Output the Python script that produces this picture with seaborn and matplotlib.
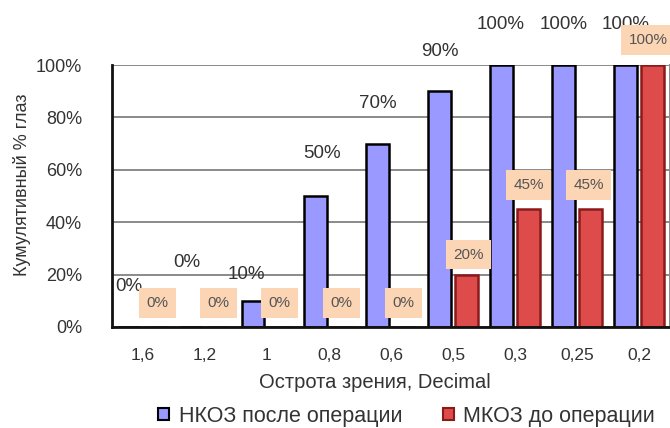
import matplotlib
matplotlib.use("Agg")
import matplotlib.pyplot as plt
import seaborn as sns
import pandas as pd

# Visual acuity categories (Decimal)
acuity = ["1,6", "1,2", "1", "0,8", "0,6", "0,5", "0,3", "0,25", "0,2"]
series_names = ["НКОЗ после операции", "МКОЗ до операции"]
ucva_after = [0, 0, 10, 50, 70, 90, 100, 100, 100]
bcva_before = [0, 0, 0, 0, 0, 20, 45, 45, 100]

# Label nudges (pixels: right, up) relative to the top centre of each bar
after_offsets = [(-1, 40), (-5, 64), (-7, 26), (7, 43), (0, 40), (0, 40), (-1, 41), (0, 41), (0, 41)]
before_offsets = [(1, 24), (0, 24), (-1, 24), (-1, 24), (-1, 24), (2, 20), (0, 24), (-2, 24), (-4, 25)]

df = pd.DataFrame({
    "acuity": acuity * 2,
    "value": ucva_after + bcva_before,
    "group": [series_names[0]] * len(acuity) + [series_names[1]] * len(acuity),
})

sns.set_theme(style="white")
plt.rcParams["font.family"] = ["Liberation Sans", "DejaVu Sans"]

BLUE = "#9999FF"
RED = "#DE4B4B"
TEXT = "#333333"

fig = plt.figure(figsize=(6.7, 4.28), dpi=100)
ax = fig.add_axes([0.167, 0.236, 0.833, 0.612])

sns.barplot(data=df, x="acuity", y="value", hue="group", order=acuity,
            hue_order=series_names, palette=[BLUE, RED], width=0.87, gap=0.18,
            linewidth=1.8, saturation=1, ax=ax, legend=True)

edge_colors = ["black", "#8B1A1A"]
for cont, ec in zip(ax.containers, edge_colors):
    for p in cont:
        p.set_edgecolor(ec)
        p.set_zorder(2)

ax.set_xlim(-0.5, len(acuity) - 0.5)
ax.set_ylim(0, 100)
ax.set_yticks(range(0, 101, 20))
ax.set_yticklabels([f"{v}%" for v in range(0, 101, 20)], fontsize=13, color=TEXT)
ax.yaxis.grid(True, color="#8a8a8a", linewidth=1.4)
ax.set_axisbelow(True)

# category labels at centres, tick marks at category boundaries
ax.set_xticks(range(len(acuity)))
ax.set_xticklabels(acuity, fontsize=12.5, color=TEXT)
ax.set_xticks([i - 0.5 for i in range(len(acuity) + 1)], minor=True)
ax.tick_params(axis="x", which="major", length=0, pad=15)
ax.tick_params(axis="x", which="minor", length=5, width=1.5, color="#333333", direction="out")
ax.tick_params(axis="y", length=6, width=1.5, color="#333333", direction="out", pad=15.5)

for side in ["left", "bottom"]:
    ax.spines[side].set_color("#111111")
    ax.spines[side].set_linewidth(2)
ax.spines["top"].set_visible(False)
ax.spines["right"].set_color("#8a8a8a")
ax.spines["right"].set_linewidth(1.4)

ax.set_xlabel("Острота зрения, Decimal", fontsize=14.5, color=TEXT)
ax.xaxis.set_label_coords((375 - 112) / 558, -(383 - 327) / 262, transform=ax.transAxes)
ax.xaxis.label.set_va("center")
ax.set_ylabel("Кумулятивный % глаз", fontsize=13, color=TEXT)
ax.yaxis.set_label_coords(-(112 - 22) / 558, (327 - 185) / 262, transform=ax.transAxes)
ax.yaxis.label.set_va("center")

px = 72 / fig.dpi
for p, v, (dx, dy) in zip(ax.containers[0], ucva_after, after_offsets):
    ax.annotate(f"{v}%", (p.get_x() + p.get_width() / 2, v), xytext=(dx * px, dy * px),
                textcoords="offset points", ha="center", va="center",
                fontsize=13.5, color=TEXT, annotation_clip=False, zorder=5)
for p, v, (dx, dy) in zip(ax.containers[1], bcva_before, before_offsets):
    ax.annotate(f"{v}%", (p.get_x() + p.get_width() / 2, v), xytext=(dx * px, dy * px),
                textcoords="offset points", ha="center", va="center",
                fontsize=11, color="#555555", annotation_clip=False, zorder=5,
                bbox=dict(boxstyle="square,pad=0.5", facecolor="#FCD5B4", edgecolor="none"))

handles, labels = ax.get_legend_handles_labels()
ax.legend_.remove()
for h in handles:
    h.set_linewidth(1.5)
handles[0].set_edgecolor("black")
handles[1].set_edgecolor("#8B1A1A")
fig.legend(handles, labels, loc="center", bbox_to_anchor=(0.607, 0.028), ncol=2,
           frameon=False, fontsize=15.5, handlelength=0.5, handleheight=0.5,
           handletextpad=0.45, columnspacing=1.9, labelcolor=TEXT)

fig.savefig("out.png", dpi=100)
